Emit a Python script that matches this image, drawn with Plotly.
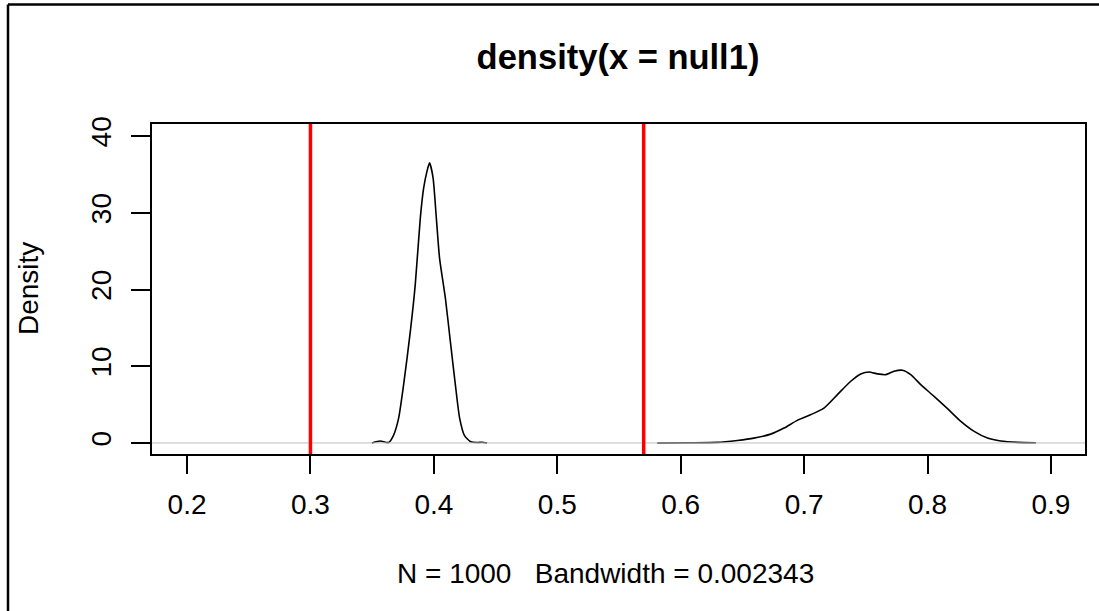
import plotly.graph_objects as go

# ---- data ----
left_x = [0.3498, 0.3565, 0.3633, 0.3673, 0.3714, 0.3754, 0.3809, 0.3849, 0.3890, 0.3917,
          0.3944, 0.3965, 0.3993, 0.4020, 0.4046, 0.4093, 0.4133, 0.4174, 0.4209, 0.4247,
          0.4295, 0.4350, 0.4390, 0.4431]
left_y = [0.0, 0.25, 0.05, 1.0, 3.2, 7.5, 14.5, 20.6, 29.3, 33.2,
          35.4, 36.5, 34.6, 29.3, 24.1, 18.9, 13.3, 7.6, 3.2, 1.0,
          0.2, 0.05, 0.1, 0.0]

right_x = [0.5810, 0.6080, 0.6296, 0.6459, 0.6593, 0.6729, 0.6837, 0.6945, 0.7053, 0.7161,
           0.7270, 0.7378, 0.7459, 0.7526, 0.7594, 0.7661, 0.7729, 0.7797, 0.7864, 0.7945,
           0.8053, 0.8162, 0.8270, 0.8378, 0.8486, 0.8594, 0.8730, 0.8878]
right_y = [0.0, 0.02, 0.07, 0.33, 0.63, 1.15, 1.94, 2.94, 3.68, 4.55,
           6.3, 8.04, 9.0, 9.25, 9.0, 8.9, 9.35, 9.48, 8.9, 7.6,
           6.08, 4.47, 2.81, 1.5, 0.63, 0.25, 0.08, 0.02]

red_lines = [0.3, 0.57]
x_ticks = [0.2, 0.3, 0.4, 0.5, 0.6, 0.7, 0.8, 0.9]
x_tick_labels = ["0.2", "0.3", "0.4", "0.5", "0.6", "0.7", "0.8", "0.9"]
y_ticks = [0, 10, 20, 30, 40]
y_tick_labels = ["0", "10", "20", "30", "40"]
title_text = "density(x = null1)"
sub_text = "N = 1000   Bandwidth = 0.002343"
y_title = "Density"

FONT = "Liberation Sans, Arial, sans-serif"
W, H = 1099, 611
L, R, T, B = 152, 1085, 124, 454  # plot box in pixels
pw, ph = R - L, B - T


def px_x(p):
    return (p - L) / pw


def px_y(p):
    return (B - p) / ph


fig = go.Figure()
for xs, ys in [(left_x, left_y), (right_x, right_y)]:
    fig.add_trace(go.Scatter(x=xs, y=ys, mode="lines",
                             line=dict(color="black", width=1.6, shape="spline", smoothing=0.6),
                             showlegend=False, hoverinfo="skip"))

shapes = []
# zero line (gray)
shapes.append(dict(type="line", xref="paper", yref="y", x0=0, x1=1, y0=0, y1=0,
                   line=dict(color="#BEBEBE", width=1)))
for v in red_lines:
    shapes.append(dict(type="line", xref="x", yref="paper", x0=v, x1=v, y0=0, y1=1,
                       line=dict(color="#FF0000", width=3.5)))
# outer frame (top and left visible)
shapes.append(dict(type="line", xref="paper", yref="paper", x0=px_x(8), x1=px_x(1100),
                   y0=px_y(4.5), y1=px_y(4.5), line=dict(color="black", width=2.5)))
shapes.append(dict(type="line", xref="paper", yref="paper", x0=px_x(8), x1=px_x(8),
                   y0=px_y(4.5), y1=px_y(612), line=dict(color="black", width=2.5)))

annotations = [
    dict(text=sub_text, xref="paper", yref="paper", x=px_x(605), y=px_y(573),
         xanchor="center", yanchor="middle", showarrow=False,
         font=dict(family=FONT, size=28, color="black")),
    dict(text=y_title, xref="paper", yref="paper", x=px_x(28), y=px_y(289),
         xanchor="center", yanchor="middle", showarrow=False, textangle=-90,
         font=dict(family=FONT, size=28, color="black")),
]

fig.update_layout(
    width=W, height=H,
    margin=dict(l=L, r=W - R, t=T, b=H - B, pad=0),
    paper_bgcolor="white", plot_bgcolor="white",
    title=dict(text="<b>" + title_text + "</b>", x=px_x(618), xref="paper",
               y=1 - 57 / H, yref="container", xanchor="center", yanchor="middle",
               font=dict(family=FONT, size=34.5, color="black")),
    shapes=shapes, annotations=annotations,
    showlegend=False,
)
fig.update_xaxes(range=[0.1716, 0.9276], tickvals=x_ticks, ticktext=x_tick_labels,
                 showgrid=False, zeroline=False, showline=True, mirror=True,
                 linecolor="black", linewidth=2, ticks="outside", ticklen=18,
                 tickwidth=2, tickcolor="black", ticklabelstandoff=6,
                 tickfont=dict(family=FONT, size=28, color="black"))
fig.update_yaxes(range=[-1.44, 41.57], tickvals=y_ticks, ticktext=y_tick_labels,
                 showgrid=False, zeroline=False, showline=True, mirror=True,
                 linecolor="black", linewidth=2, ticks="outside", ticklen=19,
                 tickwidth=2, tickcolor="black", tickangle=-90, ticklabelstandoff=9,
                 tickfont=dict(family=FONT, size=28, color="black"))

fig.write_html("out.html", config={"displayModeBar": False},
               post_script="document.body.style.margin='0';")
